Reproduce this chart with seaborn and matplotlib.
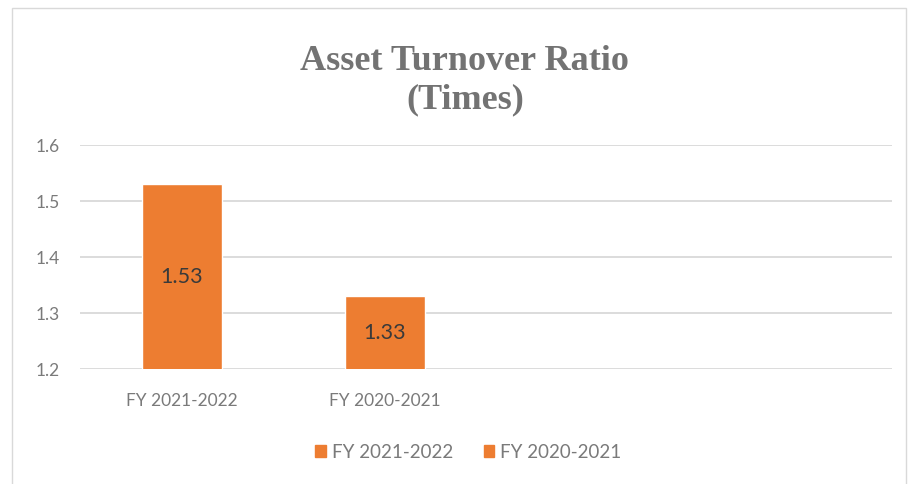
import matplotlib
matplotlib.use("Agg")
import matplotlib.pyplot as plt
from matplotlib.patches import Rectangle
import seaborn as sns
import pandas as pd

# Chart data
categories = ["FY 2021-2022", "FY 2020-2021"]
ratios = [1.53, 1.33]
y_ticks = [1.2, 1.3, 1.4, 1.5, 1.6]

bar_color = "#ED7D31"
text_gray = "#7a7a7a"
grid_gray = "#d9d9d9"

sns.set_theme(style="white")
plt.rcParams["font.family"] = ["Lato", "DejaVu Sans"]

df = pd.DataFrame({"period": categories, "ratio": ratios})

fig = plt.figure(figsize=(9.08, 4.84), dpi=100)
ax = fig.add_axes([0.0885, 0.2376, 0.8935, 0.4628])

sns.barplot(data=df, x="period", y="ratio", hue="period",
            palette=[bar_color, bar_color], width=0.395,
            legend=False, ax=ax, saturation=1)

# Leave room for four category slots
ax.set_xlim(-0.5, 3.5)
ax.set_ylim(y_ticks[0], y_ticks[-1])
ax.set_yticks(y_ticks)
ax.set_yticklabels([f"{t:.1f}" for t in y_ticks])
ax.set_xlabel("")
ax.set_ylabel("")

ax.grid(axis="y", color=grid_gray, linewidth=1.3)
ax.set_axisbelow(True)
for s in ax.spines.values():
    s.set_visible(False)
ax.tick_params(axis="both", length=0, labelsize=12.5, colors=text_gray)
ax.tick_params(axis="x", pad=17)
ax.tick_params(axis="y", pad=15)

for cont in ax.containers:
    ax.bar_label(cont, fmt="%.2f", label_type="center", fontsize=15.5,
                 color="#3a3a3a")

# Title
fig.text(0.512, 0.834, "Asset Turnover Ratio\n(Times)", ha="center", va="center",
         fontsize=26, fontweight="bold", color="#737373",
         family="Liberation Serif", linespacing=1.2)

# Legend
handles = [Rectangle((0, 0), 1, 1, color=bar_color) for _ in categories]
fig.legend(handles, categories, loc="center", bbox_to_anchor=(0.516, 0.066),
           ncol=2, frameon=False, fontsize=13.5, labelcolor=text_gray,
           handlelength=0.55, handleheight=0.55, handletextpad=0.35,
           columnspacing=1.6)

# Chart area border
fig.add_artist(Rectangle((12 / 908, -0.05), (906 - 12) / 908, 1.05 - 8 / 484,
                         transform=fig.transFigure, fill=False,
                         edgecolor="#d9d9d9", linewidth=1.0))

fig.savefig("out.png", dpi=100, facecolor="white")
